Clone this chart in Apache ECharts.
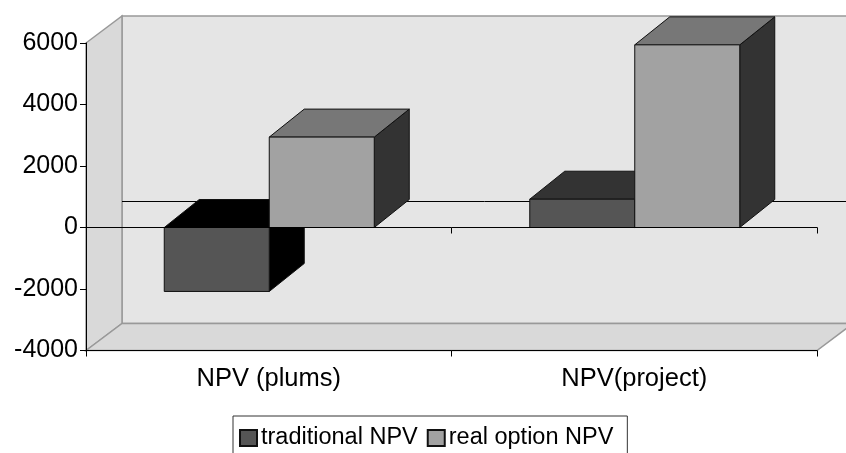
<!DOCTYPE html>
<html>
<head>
<meta charset="utf-8">
<style>html,body{margin:0;padding:0;background:#fff;overflow:hidden}#c{width:846px;height:453px}</style>
<script src="https://cdn.jsdelivr.net/npm/echarts@6/dist/echarts.min.js"></script>
</head>
<body>
<div id="c"></div>
<script>
var categories = ['NPV (plums)', 'NPV(project)'];
var traditionalNPV = [-2080, 920];
var realOptionNPV = [2940, 5940];
var yTicks = { min: -4000, max: 6000, interval: 2000 };

var chart = echarts.init(document.getElementById('c'), null, { renderer: 'canvas' });
var FONT = '"Liberation Sans", Arial, sans-serif';
var WALL_DX = 36, WALL_DY = 27, BAR_DX = 35, BAR_DY = 28, BAR_FRACTION = 105 / 365.5;

function poly(points, fill, stroke, width) {
  return { type: 'polygon', shape: { points: points },
    style: { fill: fill, stroke: stroke, lineWidth: width === undefined ? 1 : width } };
}

function wallsItem(params, api) {
  var c = params.coordSys, l = c.x, t = c.y, r = c.x + c.width, b = c.y + c.height;
  var dx = WALL_DX, dy = WALL_DY, edge = '#999999';
  var zeroY = Math.round(api.coord([0, 0])[1]) - dy + 0.5;
  return { type: 'group', children: [
    poly([[l + dx, t - dy], [r + dx, t - dy], [r + dx, b - dy], [l + dx, b - dy]], '#e5e5e5', edge, 1.5),
    poly([[l, t], [l + dx, t - dy], [l + dx, b - dy], [l, b]], '#d9d9d9', edge, 1.5),
    poly([[l, b], [l + dx, b - dy], [r + dx, b - dy], [r, b]], '#d9d9d9', edge, 1.5),
    { type: 'line', shape: { x1: l + dx, y1: zeroY, x2: r + dx, y2: zeroY }, style: { stroke: '#000', lineWidth: 1 } }
  ] };
}

function barItem(offsetSign, colors) {
  return function (params, api) {
    var idx = api.value(0), v = api.value(1);
    var center = api.coord([idx, 0]);
    var w = api.size([1, 0])[0] * BAR_FRACTION;
    var x0 = offsetSign > 0 ? center[0] + 0.5 : center[0] + 0.5 - w, x1 = x0 + w;
    var yv = api.coord([idx, v])[1], y0 = center[1];
    var top = Math.min(yv, y0), bot = Math.max(yv, y0);
    var dx = BAR_DX, dy = BAR_DY;
    var topFill = v < 0 ? '#000000' : colors.top;
    var sideFill = v < 0 ? '#000000' : colors.side;
    return { type: 'group', children: [
      poly([[x1, top], [x1 + dx, top - dy], [x1 + dx, bot - dy], [x1, bot]], sideFill, '#111'),
      poly([[x0, top], [x0 + dx, top - dy], [x1 + dx, top - dy], [x1, top]], topFill, '#111'),
      poly([[x0, top], [x1, top], [x1, bot], [x0, bot]], colors.front, '#111')
    ] };
  };
}

function pairs(values) { return values.map(function (v, i) { return [i, v]; }); }

var labelStyle = { color: '#000', fontFamily: FONT, fontSize: 25 };
var axisStroke = { color: '#000', width: 1 };

chart.setOption({
  animation: false,
  backgroundColor: '#fff',
  grid: { left: 86, top: 43, width: 731, height: 307.5, containLabel: false },
  legend: {
    data: ['traditional NPV', 'real option NPV'],
    left: 233, top: 416,
    orient: 'horizontal',
    padding: [10, 14, 20, 6],
    itemWidth: 17, itemHeight: 16, itemGap: 9,
    icon: 'rect',
    backgroundColor: '#fff', borderColor: '#333', borderWidth: 1,
    textStyle: { color: '#000', fontFamily: FONT, fontSize: 23.5, padding: [0, 0, 0, -1] }
  },
  xAxis: [
    { type: 'category', data: categories, position: 'bottom', z: 10,
      axisLine: { onZero: false, lineStyle: axisStroke },
      axisTick: { show: true, length: 6, alignWithLabel: false, lineStyle: axisStroke },
      axisLabel: Object.assign({}, labelStyle, { margin: 15, fontSize: 25.5 }),
      splitLine: { show: false } },
    { type: 'category', data: categories, position: 'bottom', z: 10,
      axisLine: { onZero: true, onZeroAxisIndex: 0, lineStyle: axisStroke },
      axisTick: { show: true, length: 6, lineStyle: axisStroke },
      axisLabel: { show: false },
      splitLine: { show: false } }
  ],
  yAxis: { type: 'value', min: yTicks.min, max: yTicks.max, interval: yTicks.interval, z: 10,
    axisLine: { show: true, onZero: false, lineStyle: axisStroke },
    axisTick: { show: true, length: 6, lineStyle: axisStroke },
    axisLabel: Object.assign({ margin: 8, formatter: function (v) { return String(v); } }, labelStyle),
    splitLine: { show: false } },
  series: [
    { name: 'walls', type: 'custom', xAxisIndex: 0, yAxisIndex: 0, z: 1, clip: false,
      renderItem: wallsItem, data: [[0, 0]], silent: true, encode: { x: 0, y: 1 } },
    { name: 'traditional NPV', type: 'custom', xAxisIndex: 0, yAxisIndex: 0, z: 2, clip: false,
      renderItem: barItem(-1, { front: '#555555', top: '#333333', side: '#333333' }),
      itemStyle: { color: '#555555', borderColor: '#111', borderWidth: 1 },
      data: pairs(traditionalNPV), encode: { x: 0, y: 1 } },
    { name: 'real option NPV', type: 'custom', xAxisIndex: 0, yAxisIndex: 0, z: 3, clip: false,
      renderItem: barItem(1, { front: '#a2a2a2', top: '#777777', side: '#333333' }),
      itemStyle: { color: '#a2a2a2', borderColor: '#111', borderWidth: 1 },
      data: pairs(realOptionNPV), encode: { x: 0, y: 1 } }
  ]
});
</script>
</body>
</html>
